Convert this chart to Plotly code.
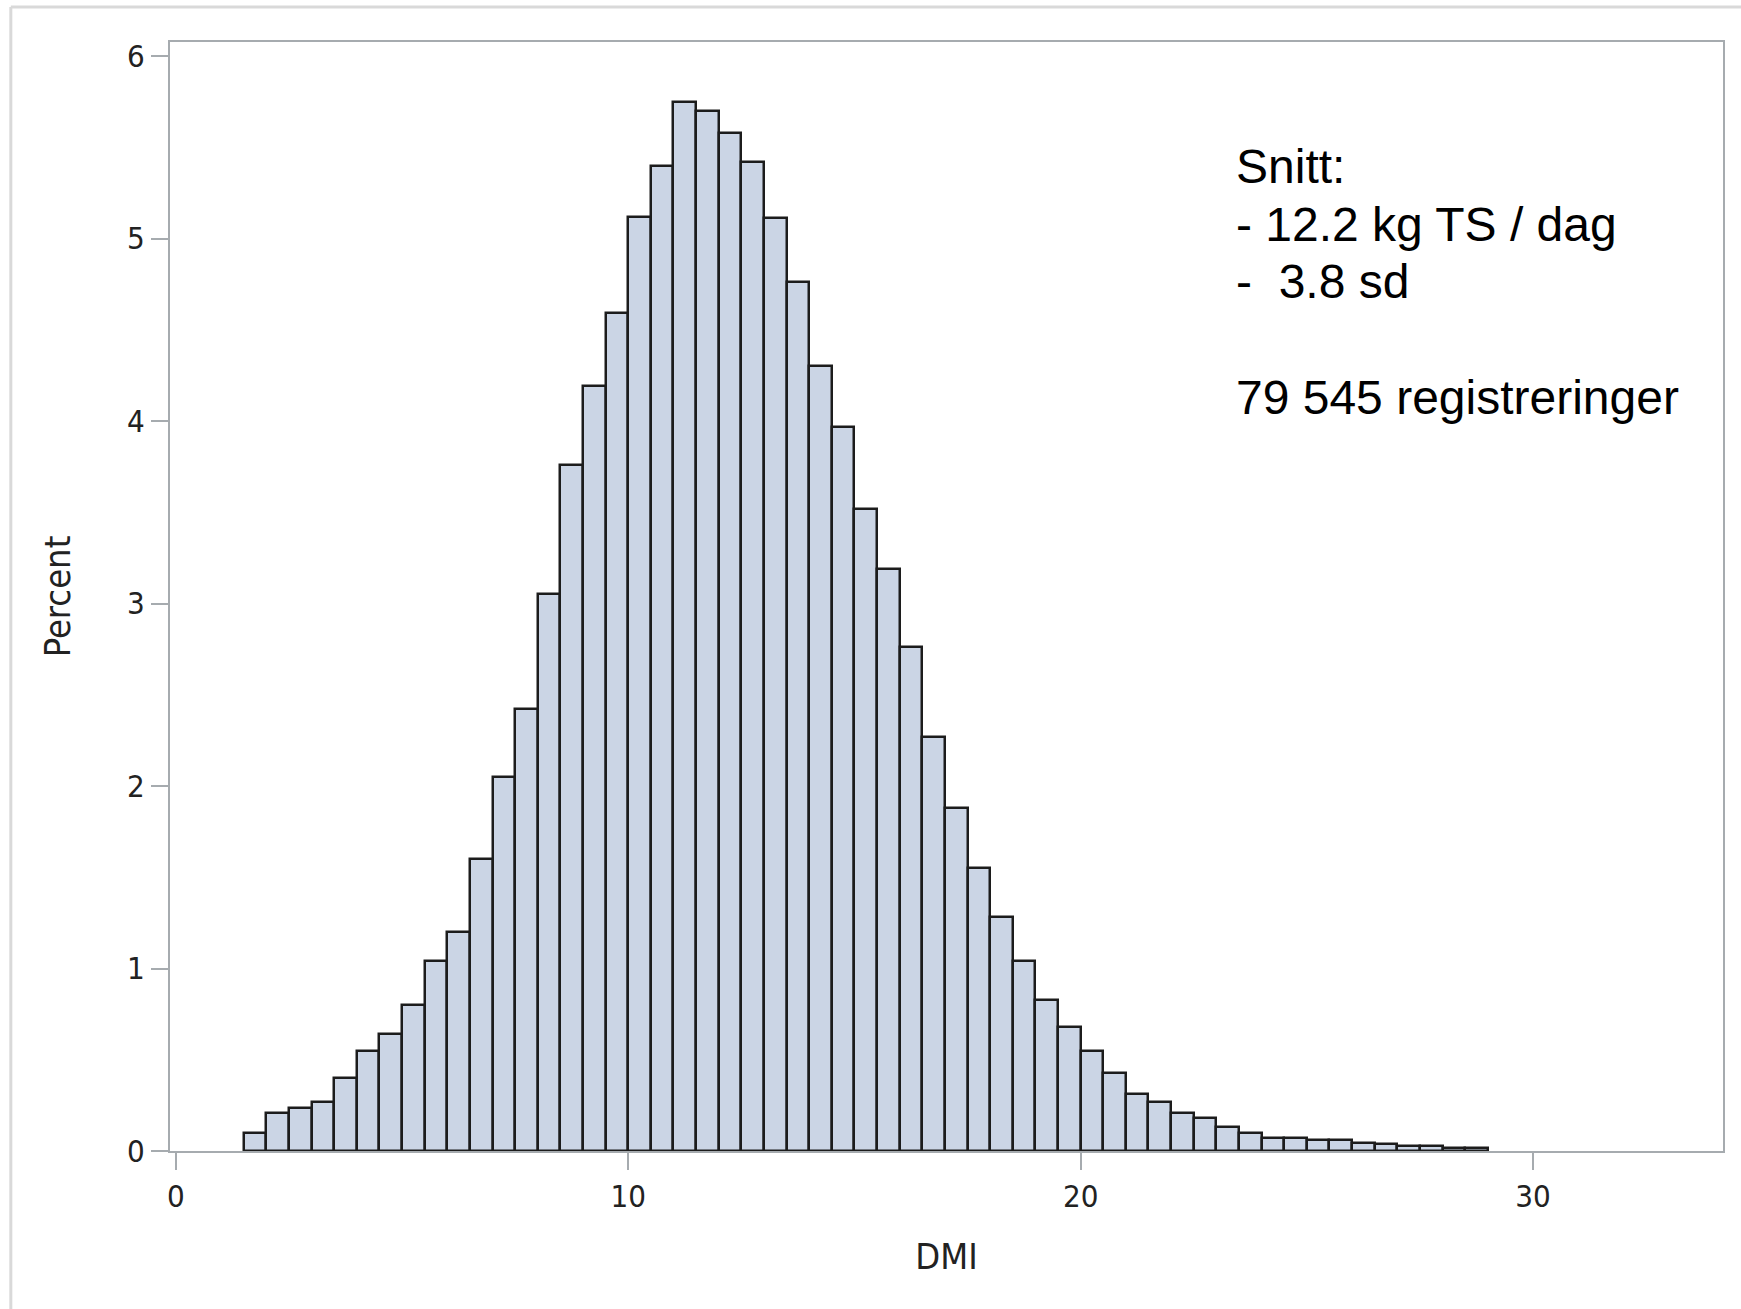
import plotly.graph_objects as go

# Histogram bins (bin midpoints, width 0.5 DMI) and percent per bin
bin_mid = [1.75, 2.25, 2.75, 3.25, 3.75, 4.25, 4.75, 5.25, 5.75, 6.25,
           6.75, 7.25, 7.75, 8.25, 8.75, 9.25, 9.75, 10.25, 10.75, 11.25,
           11.75, 12.25, 12.75, 13.25, 13.75, 14.25, 14.75, 15.25, 15.75, 16.25,
           16.75, 17.25, 17.75, 18.25, 18.75, 19.25, 19.75, 20.25, 20.75, 21.25,
           21.75, 22.25, 22.75, 23.25, 23.75, 24.25, 24.75, 25.25, 25.75, 26.25,
           26.75, 27.25, 27.75, 28.25, 28.75]
percent = [0.10, 0.21, 0.235, 0.27, 0.40, 0.55, 0.64, 0.80, 1.04, 1.20,
           1.60, 2.05, 2.42, 3.05, 3.76, 4.19, 4.59, 5.12, 5.40, 5.75,
           5.70, 5.58, 5.42, 5.11, 4.76, 4.30, 3.97, 3.52, 3.19, 2.76,
           2.27, 1.88, 1.55, 1.28, 1.04, 0.83, 0.68, 0.55, 0.43, 0.31,
           0.27, 0.21, 0.18, 0.13, 0.10, 0.071, 0.071, 0.058, 0.058, 0.044,
           0.040, 0.026, 0.025, 0.015, 0.015]
bin_width = 0.5

x_ticks = [0, 10, 20, 30]
y_ticks = [0, 1, 2, 3, 4, 5, 6]

note_lines = ["Snitt:", "- 12.2 kg TS / dag", "-\u00a0 3.8 sd", "79 545 registreringer"]
note_y = [0.888, 0.8358, 0.7844, 0.6798]

AXIS_COLOR = "#a6abaf"
TICK_FONT = dict(family="Liberation Sans Narrow, Arial Narrow, DejaVu Sans Condensed, Liberation Sans, sans-serif",
                 size=31, color="#222222")
TITLE_FONT = dict(family="Liberation Sans Narrow, Arial Narrow, DejaVu Sans Condensed, Liberation Sans, sans-serif",
                  size=36, color="#222222")

fig = go.Figure()
fig.add_trace(go.Bar(
    x=bin_mid, y=percent, width=[bin_width] * len(bin_mid),
    marker=dict(color="#cbd5e5", line=dict(color="#1c1c1c", width=2.5)),
    showlegend=False, hoverinfo="x+y",
))

for txt, yy in zip(note_lines, note_y):
    fig.add_annotation(
        text=txt, xref="paper", yref="paper", x=0.685, y=yy,
        xanchor="left", yanchor="middle", showarrow=False,
        font=dict(family="Liberation Sans, Arial, sans-serif", size=48, color="#000000"),
    )

# outer light-grey frame (left and top edges visible)
fig.add_shape(type="line", xref="paper", yref="paper", x0=-0.1025, x1=-0.1025, y0=-0.2, y1=1.0316,
              line=dict(color="#d9d9d9", width=3))
fig.add_shape(type="line", xref="paper", yref="paper", x0=-0.1025, x1=1.1, y0=1.0316, y1=1.0316,
              line=dict(color="#d9d9d9", width=3))

fig.update_layout(
    width=1741, height=1309, autosize=False,
    margin=dict(l=170, r=18, t=42, b=158),
    paper_bgcolor="white", plot_bgcolor="white",
    bargap=0,
    xaxis=dict(
        range=[-0.13, 34.2], tickmode="array", tickvals=x_ticks,
        ticks="outside", ticklen=17, tickwidth=2, tickcolor=AXIS_COLOR,
        showline=True, linecolor=AXIS_COLOR, linewidth=2, mirror=True,
        showgrid=False, zeroline=False, tickfont=TICK_FONT,
        title=dict(text="DMI", font=TITLE_FONT, standoff=31),
    ),
    yaxis=dict(
        range=[0, 6.077], tickmode="array", tickvals=y_ticks,
        ticks="outside", ticklen=17, tickwidth=2, tickcolor=AXIS_COLOR,
        showline=True, linecolor=AXIS_COLOR, linewidth=2, mirror=True,
        showgrid=False, zeroline=False, tickfont=TICK_FONT,
        title=dict(text="Percent", font=TITLE_FONT, standoff=45),
    ),
)

fig.write_html("out.html")
